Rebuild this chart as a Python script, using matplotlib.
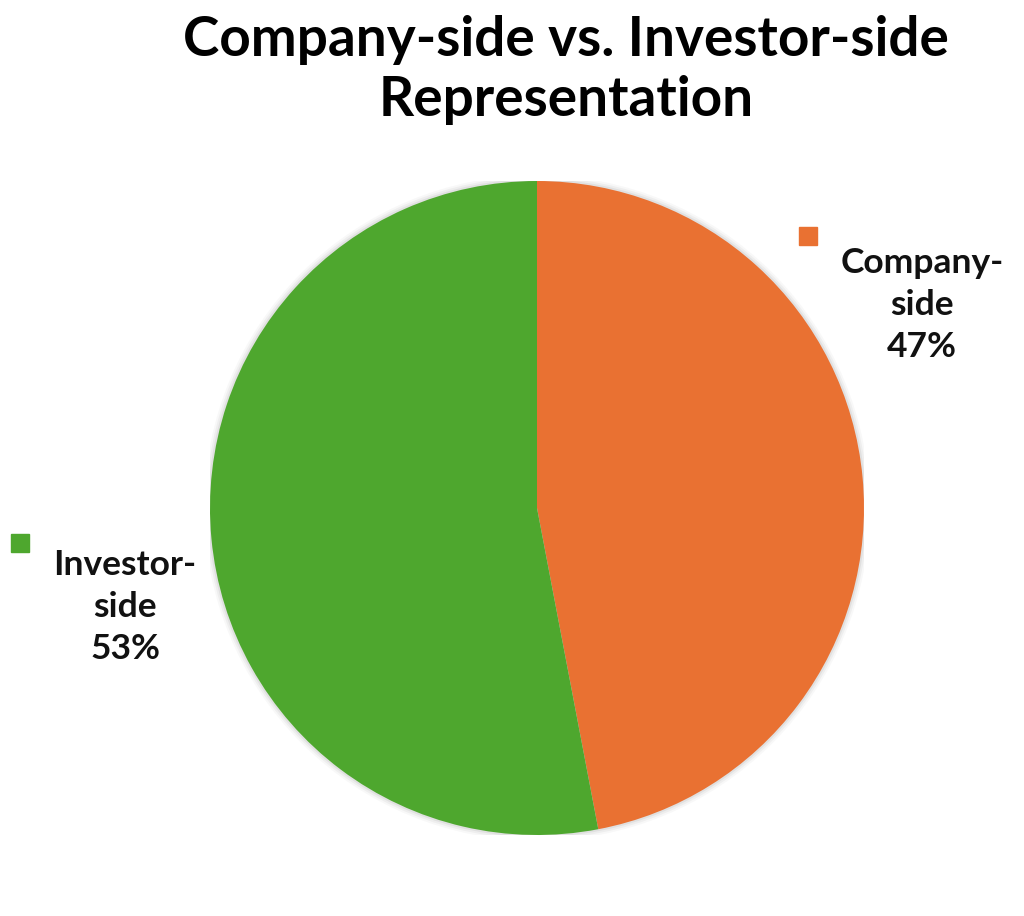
import matplotlib
matplotlib.use("Agg")
import matplotlib.pyplot as plt
from matplotlib.patches import Circle

labels = ["Company-side", "Investor-side"]
shares = [47, 53]
colors = ["#E97132", "#4EA72E"]

plt.rcParams['font.family'] = ['Lato', 'DejaVu Sans']

fig = plt.figure(figsize=(10.24, 9.16), dpi=100)
# pie centre ~ (537, 508) px, radius ~ 327 px
cx, cy, r = 537, 508, 327
W, H = 1024, 916
ax = fig.add_axes([(cx - r) / W, (H - cy - r) / H, 2 * r / W, 2 * r / H])

# soft shadow round the pie
for k, a in [(1.018, 0.05), (1.012, 0.08), (1.006, 0.12)]:
    ax.add_patch(Circle((0, 0), k, color="#808080", alpha=a, lw=0, zorder=0))

wedges, _ = ax.pie(shares, colors=colors, startangle=90, counterclock=False,
                   radius=1.0, wedgeprops=dict(linewidth=0))
for w in wedges:
    w.set_zorder(2)

ax.set_xlim(-1, 1)
ax.set_ylim(-1, 1)
ax.set_aspect("equal")
ax.axis("off")


def px(x, y):
    return (x - cx) / r, (cy - y) / r


# label boxes: (square marker px, text centre px)
spots = [((808, 236), (922, 305)), ((20, 543), (125, 607))]
for (lab, val, col), (sq, tx) in zip(zip(labels, shares, colors), spots):
    mx, my = px(*sq)
    ax.plot(mx, my, marker="s", markersize=13, color=col, clip_on=False,
            linestyle="none")
    first, second = lab.split("-")
    tx_, ty_ = px(*tx)
    ax.text(tx_, ty_, f"{first}-\n{second}\n{val}%", ha="center", va="center",
            fontsize=25.5, fontweight="bold", color="#111111",
            linespacing=1.4, clip_on=False)

fig.text(566 / W, 1 - 70 / H, "Company-side vs. Investor-side\nRepresentation",
         ha="center", va="center", fontsize=39.5, fontweight="bold",
         color="#000000", linespacing=1.25)

fig.savefig("out.png", dpi=100, facecolor="white")
